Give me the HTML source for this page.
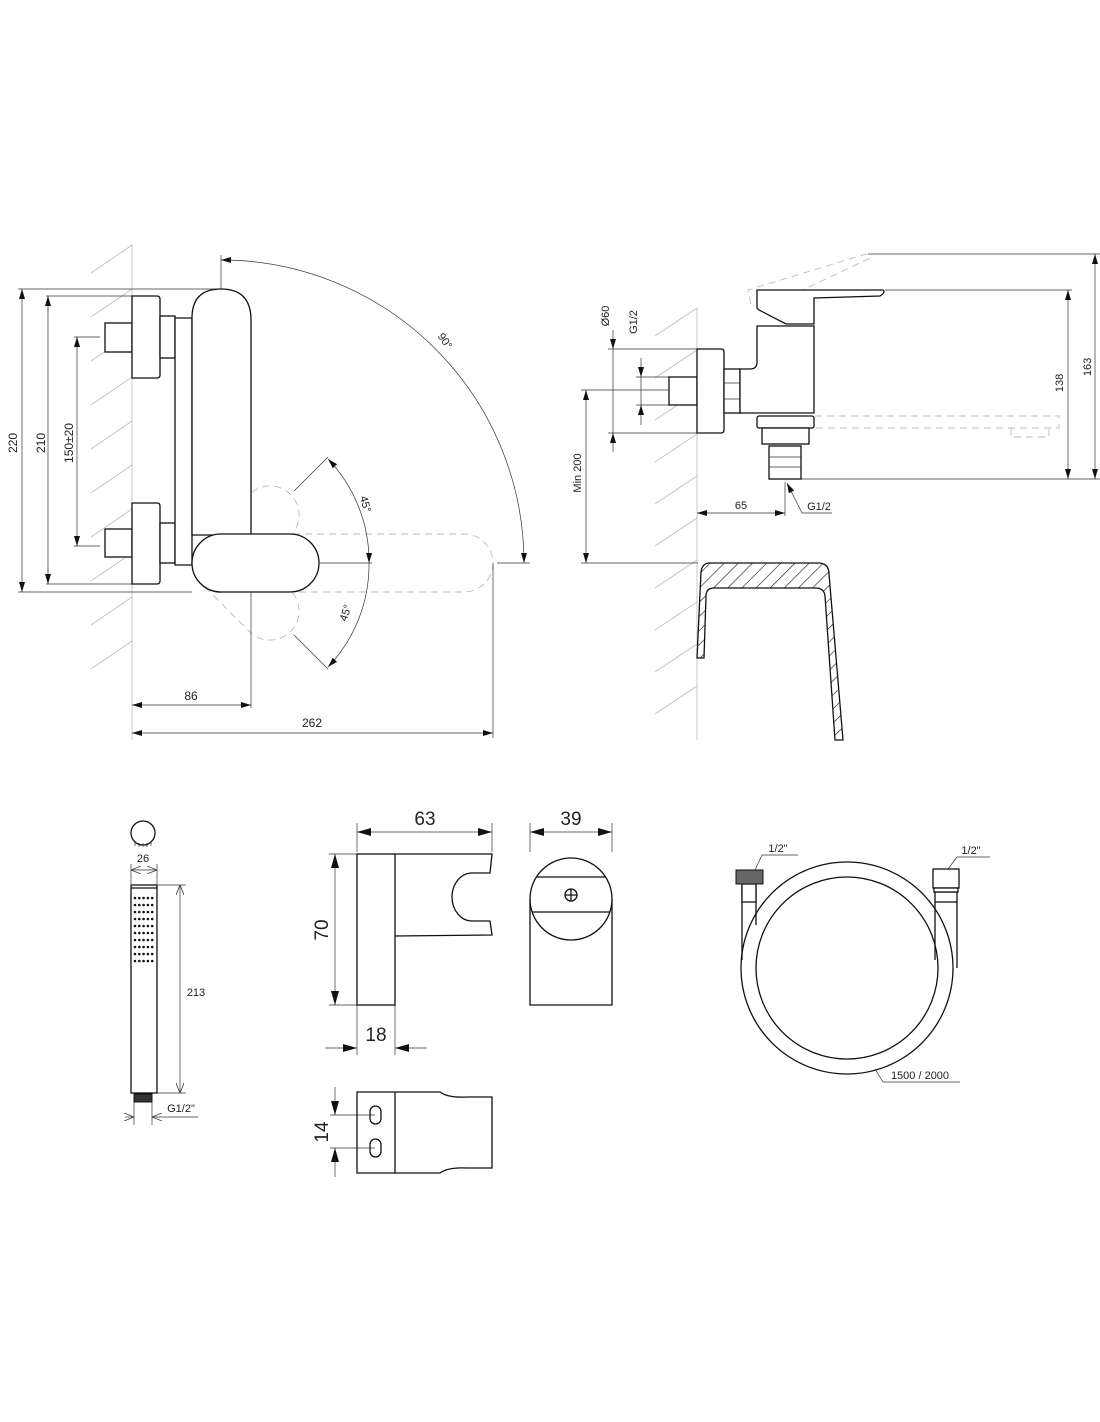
<!DOCTYPE html>
<html><head><meta charset="utf-8"><style>
html,body{margin:0;padding:0;background:#fff}
svg{display:block}
text{font-family:"Liberation Sans Narrow","Liberation Sans",sans-serif;fill:#222}
.k{stroke:#111;stroke-width:1.3;fill:none}
.kf{stroke:#111;stroke-width:1.3;fill:#fff}
.t{stroke:#333;stroke-width:0.7;fill:none}
.g{stroke:#bbb;stroke-width:0.8;fill:none}
.d{stroke:#bbb;stroke-width:0.9;fill:none;stroke-dasharray:7 5}
</style></head><body>
<svg width="1100" height="1422" viewBox="0 0 1100 1422" xmlns="http://www.w3.org/2000/svg">
<defs>
<marker id="a" viewBox="0 0 10 6" refX="10" refY="3" markerWidth="10" markerHeight="6" orient="auto-start-reverse" markerUnits="userSpaceOnUse"><path d="M0,0 L10,3 L0,6 z" fill="#111"/></marker>
<marker id="b" viewBox="0 0 14 8" refX="14" refY="4" markerWidth="14" markerHeight="8" orient="auto-start-reverse" markerUnits="userSpaceOnUse"><path d="M0,0 L14,4 L0,8 z" fill="#111"/></marker>
<marker id="o" viewBox="0 0 10 8" refX="10" refY="4" markerWidth="10" markerHeight="8" orient="auto-start-reverse" markerUnits="userSpaceOnUse"><path d="M0,0 L10,4 L0,8" fill="none" stroke="#333" stroke-width="0.8"/></marker>
<pattern id="h" width="10" height="10" patternUnits="userSpaceOnUse" patternTransform="rotate(45)"><line x1="0" y1="0" x2="0" y2="10" stroke="#111" stroke-width="1.2"/></pattern>
</defs>

<!-- ===== LEFT VIEW ===== -->
<g class="g">
<line x1="132" y1="244" x2="132" y2="740"/>
<path d="M91,273 L132,245 M91,317 L132,289 M91,361 L132,333 M91,405 L132,377 M91,449 L132,421 M91,493 L132,465 M91,537 L132,509 M91,581 L132,553 M91,625 L132,597 M91,669 L132,641"/>
</g>
<g class="t">
<line x1="18" y1="289" x2="221" y2="289"/><line x1="18" y1="592" x2="192" y2="592"/>
<line x1="46" y1="296" x2="132" y2="296"/><line x1="46" y1="584" x2="132" y2="584"/>
<line x1="74" y1="337" x2="100" y2="337"/><line x1="74" y1="546" x2="100" y2="546"/>
<line x1="22" y1="289" x2="22" y2="592" marker-start="url(#a)" marker-end="url(#a)"/>
<line x1="48" y1="296" x2="48" y2="584" marker-start="url(#a)" marker-end="url(#a)"/>
<line x1="77" y1="337" x2="77" y2="546" marker-start="url(#a)" marker-end="url(#a)"/>
</g>
<text transform="translate(17,443) rotate(-90)" font-size="12" text-anchor="middle">220</text>
<text transform="translate(45,443) rotate(-90)" font-size="12" text-anchor="middle">210</text>
<text transform="translate(73,443) rotate(-90)" font-size="12" text-anchor="middle">150±20</text>

<rect class="d" x="192" y="534" width="301" height="58" rx="29"/>
<g transform="rotate(-45 222 563)"><rect class="d" x="192" y="534" width="127" height="58" rx="29"/></g>
<g transform="rotate(45 222 563)"><rect class="d" x="192" y="534" width="127" height="58" rx="29"/></g>

<rect class="kf" x="105" y="323" width="27" height="29"/>
<path class="kf" d="M132,296 H157 Q160,296 160,299 V375 Q160,378 157,378 H132 Z"/>
<rect class="kf" x="160" y="316" width="15" height="42"/>
<rect class="kf" x="105" y="529" width="27" height="28"/>
<path class="kf" d="M132,503 H157 Q160,503 160,506 V581 Q160,584 157,584 H132 Z"/>
<rect class="kf" x="160" y="523" width="15" height="40"/>
<path class="kf" d="M175,318 H192 V565 H175 Z"/>
<path class="kf" d="M192,318 Q192,289 221,289 Q251,289 251,320 V535 H192 Z"/>
<rect class="kf" x="192" y="534" width="127" height="58" rx="29"/>
<g class="t">
<line x1="221" y1="255" x2="221" y2="289"/>
<line x1="320" y1="563" x2="372" y2="563"/>
<line x1="497" y1="563" x2="530" y2="563"/>
<path d="M221,260 A303,303 0 0 1 524,563" marker-start="url(#a)" marker-end="url(#a)"/>
<line x1="294" y1="491" x2="328" y2="457"/>
<line x1="294" y1="635" x2="328" y2="669"/>
<path d="M328,459 A148,148 0 0 1 369,563" marker-start="url(#a)" marker-end="url(#a)"/>
<path d="M369,563 A148,148 0 0 1 328,667" marker-end="url(#a)"/>
<line x1="251" y1="592" x2="251" y2="708"/>
<line x1="493" y1="563" x2="493" y2="738"/>
<line x1="132" y1="705" x2="251" y2="705" marker-start="url(#a)" marker-end="url(#a)"/>
<line x1="132" y1="733" x2="493" y2="733" marker-start="url(#a)" marker-end="url(#a)"/>
</g>
<text transform="translate(442,343) rotate(55)" font-size="11" text-anchor="middle">90°</text>
<text transform="translate(362,505) rotate(75)" font-size="11" text-anchor="middle">45°</text>
<text transform="translate(349,614) rotate(-72)" font-size="11" text-anchor="middle">45°</text>
<text x="191" y="700" font-size="12" text-anchor="middle">86</text>
<text x="312" y="727" font-size="12" text-anchor="middle">262</text>

<!-- ===== RIGHT VIEW ===== -->
<g class="g">
<line x1="697" y1="308" x2="697" y2="740"/>
<path d="M655,336 L697,308 M655,378 L697,350 M655,420 L697,392 M655,462 L697,434 M655,504 L697,476 M655,546 L697,518 M655,588 L697,560 M655,630 L697,602 M655,672 L697,644 M655,714 L697,686"/>
</g>
<path class="d" d="M751,304 L748,290 L866,254 L870,258 L790,296"/>
<path class="d" d="M815,416 H1059 V428 H815 M1011,428 V437 H1049 V428"/>
<g class="t">
<line x1="608" y1="349" x2="697" y2="349"/><line x1="608" y1="433" x2="697" y2="433"/>
<line x1="636" y1="377" x2="669" y2="377"/><line x1="636" y1="405" x2="669" y2="405"/>
<line x1="613" y1="330" x2="613" y2="349" marker-end="url(#a)"/>
<line x1="613" y1="349" x2="613" y2="433"/>
<line x1="613" y1="452" x2="613" y2="433" marker-end="url(#a)"/>
<line x1="641" y1="358" x2="641" y2="377" marker-end="url(#a)"/>
<line x1="641" y1="377" x2="641" y2="405"/>
<line x1="641" y1="425" x2="641" y2="405" marker-end="url(#a)"/>
<line x1="581" y1="390" x2="668" y2="390"/>
<line x1="581" y1="563" x2="698" y2="563"/>
<line x1="586" y1="390" x2="586" y2="563" marker-start="url(#a)" marker-end="url(#a)"/>
<line x1="785" y1="482" x2="785" y2="516"/>
<line x1="697" y1="513" x2="785" y2="513" marker-start="url(#a)" marker-end="url(#a)"/>
<path d="M832,513 H802 L787,483" marker-end="url(#a)"/>
<line x1="868" y1="254" x2="1100" y2="254"/>
<line x1="885" y1="290" x2="1072" y2="290"/>
<line x1="801" y1="479" x2="1100" y2="479"/>
<line x1="1068" y1="290" x2="1068" y2="479" marker-start="url(#a)" marker-end="url(#a)"/>
<line x1="1095" y1="254" x2="1095" y2="479" marker-start="url(#a)" marker-end="url(#a)"/>
</g>
<text transform="translate(609,316) rotate(-90)" font-size="11" text-anchor="middle">Ø60</text>
<text transform="translate(637,322) rotate(-90)" font-size="11" text-anchor="middle">G1/2</text>
<text transform="translate(581,473) rotate(-90)" font-size="11" text-anchor="middle">Min 200</text>
<text x="741" y="509" font-size="11" text-anchor="middle">65</text>
<text x="819" y="510" font-size="11" text-anchor="middle">G1/2</text>
<text transform="translate(1063,383) rotate(-90)" font-size="11" text-anchor="middle">138</text>
<text transform="translate(1091,367) rotate(-90)" font-size="11" text-anchor="middle">163</text>
<rect class="kf" x="669" y="377" width="28" height="28"/>
<path class="kf" d="M697,349 H721 Q724,349 724,352 V430 Q724,433 721,433 H697 Z"/>
<rect class="kf" x="724" y="369" width="16" height="44"/>
<path class="t" d="M724,383 H740 M724,399 H740"/>
<path class="kf" d="M740,413 V369 H750 Q757,369 757,362 V326 H814 V413 Z"/>
<path class="kf" d="M757,290 H883 Q886,292 880,296 L814,298 V324 H786 L759,310 L757,308 Z"/>
<rect class="kf" x="757" y="416" width="57" height="12" rx="2"/>
<rect class="kf" x="762" y="428" width="47" height="16"/>
<rect class="kf" x="769" y="446" width="32" height="33"/>
<path class="t" d="M769,457 H801 M769,467 H801"/>
<path d="M697,658 L701,572 Q702,563 710,563 L818,563 Q829,563 829,574 L843,740 L835,740 L825,596 Q824,588 816,588 L714,588 Q706,588 706,596 L704,658 Z" fill="url(#h)" stroke="#111" stroke-width="1.3"/>

<!-- ===== HAND SHOWER ===== -->
<circle class="k" cx="143" cy="833" r="12"/>
<path class="t" d="M135,842 v4 M139,843 v4 M143,843 v4 M147,843 v4 M151,842 v4"/>
<text x="143" y="862" font-size="11" text-anchor="middle">26</text>
<g class="t"><line x1="131" y1="864" x2="131" y2="884"/><line x1="157" y1="864" x2="157" y2="884"/>
<line x1="131" y1="870" x2="157" y2="870" marker-start="url(#o)" marker-end="url(#o)"/></g>
<rect class="k" x="131" y="885" width="26" height="208"/>
<line class="k" x1="131" y1="888" x2="157" y2="888"/>
<g fill="#111">
<circle cx="135" cy="898" r="1.3"/><circle cx="139.3" cy="898" r="1.3"/><circle cx="143.6" cy="898" r="1.3"/><circle cx="147.9" cy="898" r="1.3"/><circle cx="152.2" cy="898" r="1.3"/>
<circle cx="135" cy="905" r="1.3"/><circle cx="139.3" cy="905" r="1.3"/><circle cx="143.6" cy="905" r="1.3"/><circle cx="147.9" cy="905" r="1.3"/><circle cx="152.2" cy="905" r="1.3"/>
<circle cx="135" cy="912" r="1.3"/><circle cx="139.3" cy="912" r="1.3"/><circle cx="143.6" cy="912" r="1.3"/><circle cx="147.9" cy="912" r="1.3"/><circle cx="152.2" cy="912" r="1.3"/>
<circle cx="135" cy="919" r="1.3"/><circle cx="139.3" cy="919" r="1.3"/><circle cx="143.6" cy="919" r="1.3"/><circle cx="147.9" cy="919" r="1.3"/><circle cx="152.2" cy="919" r="1.3"/>
<circle cx="135" cy="926" r="1.3"/><circle cx="139.3" cy="926" r="1.3"/><circle cx="143.6" cy="926" r="1.3"/><circle cx="147.9" cy="926" r="1.3"/><circle cx="152.2" cy="926" r="1.3"/>
<circle cx="135" cy="933" r="1.3"/><circle cx="139.3" cy="933" r="1.3"/><circle cx="143.6" cy="933" r="1.3"/><circle cx="147.9" cy="933" r="1.3"/><circle cx="152.2" cy="933" r="1.3"/>
<circle cx="135" cy="940" r="1.3"/><circle cx="139.3" cy="940" r="1.3"/><circle cx="143.6" cy="940" r="1.3"/><circle cx="147.9" cy="940" r="1.3"/><circle cx="152.2" cy="940" r="1.3"/>
<circle cx="135" cy="947" r="1.3"/><circle cx="139.3" cy="947" r="1.3"/><circle cx="143.6" cy="947" r="1.3"/><circle cx="147.9" cy="947" r="1.3"/><circle cx="152.2" cy="947" r="1.3"/>
<circle cx="135" cy="954" r="1.3"/><circle cx="139.3" cy="954" r="1.3"/><circle cx="143.6" cy="954" r="1.3"/><circle cx="147.9" cy="954" r="1.3"/><circle cx="152.2" cy="954" r="1.3"/>
<circle cx="135" cy="961" r="1.3"/><circle cx="139.3" cy="961" r="1.3"/><circle cx="143.6" cy="961" r="1.3"/><circle cx="147.9" cy="961" r="1.3"/><circle cx="152.2" cy="961" r="1.3"/>
</g>
<rect x="134" y="1094" width="18" height="8" fill="#333" stroke="#111"/>
<g class="t"><line x1="157" y1="885" x2="186" y2="885"/><line x1="157" y1="1093" x2="186" y2="1093"/>
<line x1="180" y1="885" x2="180" y2="1093" marker-start="url(#o)" marker-end="url(#o)"/>
<line x1="134" y1="1102" x2="134" y2="1125"/><line x1="152" y1="1102" x2="152" y2="1125"/>
<line x1="125" y1="1117" x2="134" y2="1117" marker-end="url(#o)"/><line x1="198" y1="1117" x2="152" y2="1117" marker-end="url(#o)"/></g>
<text x="196" y="996" font-size="11" text-anchor="middle">213</text>
<text x="181" y="1112" font-size="11" text-anchor="middle">G1/2"</text>

<!-- ===== BRACKET ===== -->
<g class="t">
<line x1="357" y1="823" x2="357" y2="852"/><line x1="492" y1="823" x2="492" y2="852"/>
<line x1="357" y1="832" x2="492" y2="832" marker-start="url(#b)" marker-end="url(#b)"/>
<line x1="530" y1="823" x2="530" y2="852"/><line x1="612" y1="823" x2="612" y2="852"/>
<line x1="530" y1="832" x2="612" y2="832" marker-start="url(#b)" marker-end="url(#b)"/>
<line x1="329" y1="854" x2="357" y2="854"/><line x1="329" y1="1005" x2="357" y2="1005"/>
<line x1="335" y1="854" x2="335" y2="1005" marker-start="url(#b)" marker-end="url(#b)"/>
<line x1="357" y1="1005" x2="357" y2="1055"/><line x1="395" y1="1005" x2="395" y2="1055"/>
<line x1="325" y1="1048" x2="357" y2="1048" marker-end="url(#b)"/><line x1="427" y1="1048" x2="395" y2="1048" marker-end="url(#b)"/>
<line x1="330" y1="1115" x2="375" y2="1115"/><line x1="330" y1="1148" x2="375" y2="1148"/>
<line x1="335" y1="1087" x2="335" y2="1115" marker-end="url(#b)"/><line x1="335" y1="1177" x2="335" y2="1148" marker-end="url(#b)"/>
</g>
<text x="425" y="825" font-size="19" text-anchor="middle">63</text>
<text x="571" y="825" font-size="19" text-anchor="middle">39</text>
<text transform="translate(328,930) rotate(-90)" font-size="19" text-anchor="middle">70</text>
<text x="376" y="1041" font-size="19" text-anchor="middle">18</text>
<text transform="translate(328,1132) rotate(-90)" font-size="19" text-anchor="middle">14</text>
<rect class="k" x="357" y="854" width="38" height="151"/>
<path class="k" d="M395,854 H492 L490,873 H472 A20,24 0 1 0 472,921 H490 L492,935 L395,936"/>
<path class="k" d="M530,899 V1005 H612 V899"/>
<circle class="k" cx="571" cy="899" r="41"/>
<path class="k" d="M537,877 H605 M532,912 H610"/>
<circle class="k" cx="571" cy="895" r="6"/><path class="k" d="M565,895 h12 M571,889 v12"/>
<path class="k" d="M357,1092 H440 Q448,1098 467,1097 H492 V1168 H467 Q448,1167 440,1173 H357 Z"/>
<line class="k" x1="395" y1="1092" x2="395" y2="1173"/>
<rect class="k" x="370" y="1106" width="11" height="18" rx="5.5"/>
<rect class="k" x="370" y="1139" width="11" height="18" rx="5.5"/>

<!-- ===== HOSE ===== -->
<circle class="k" cx="847" cy="968" r="106"/>
<circle cx="847" cy="968" r="91" fill="#fff" stroke="#111" stroke-width="1.3"/>
<path class="kf" d="M742,884 V960 M756,884 V925"/>
<rect class="kf" x="742" y="884" width="14" height="18"/>
<rect x="736" y="870" width="27" height="14" fill="#666" stroke="#111"/>
<path class="k" d="M935,902 V960 M957,902 V968"/>
<rect class="kf" x="935" y="892" width="22" height="10"/>
<rect class="kf" x="933" y="869" width="26" height="19"/>
<rect class="kf" x="934" y="888" width="24" height="4"/>
<g class="t"><path d="M755,870 L762,855 H798"/><path d="M948,869 L957,857 H990"/><path d="M875,1069 L883,1082 H960"/></g>
<text x="778" y="852" font-size="11" text-anchor="middle">1/2"</text>
<text x="971" y="854" font-size="11" text-anchor="middle">1/2"</text>
<text x="920" y="1079" font-size="11" text-anchor="middle">1500 / 2000</text>
</svg>
</body></html>
